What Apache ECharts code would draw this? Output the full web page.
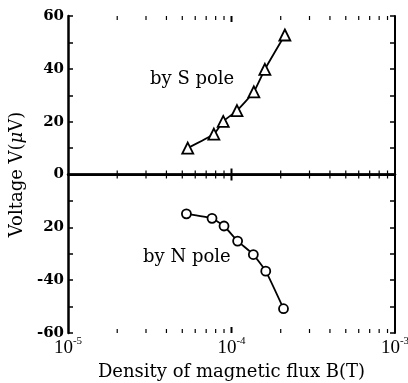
<!DOCTYPE html>
<html><head><meta charset="utf-8">
<script src="https://cdn.jsdelivr.net/npm/echarts@6/dist/echarts.min.js"></script>
<style>html,body{margin:0;padding:0;background:#fff}#c{width:408px;height:383px}</style>
</head><body><div id="c"></div>
<script>
const sPoleB = [5.4e-5, 7.8e-5, 8.9e-5, 1.08e-4, 1.37e-4, 1.6e-4, 2.12e-4];
const sPoleV = [10, 15.3, 20.1, 24.2, 31.3, 39.8, 52.8];
const nPoleB = [5.3e-5, 7.6e-5, 9.0e-5, 1.09e-4, 1.36e-4, 1.62e-4, 2.08e-4];
const nPoleV = [-14.9, -16.6, -19.5, -25.2, -30.3, -36.6, -50.8];
const yTickLabels = {"60":"60","40":"40","20":"20","0":"0","-20":"20","-40":"-40","-60":"-60"};
const xMinorTicks = [2e-5,3e-5,4e-5,5e-5,6e-5,7e-5,8e-5,9e-5,2e-4,3e-4,4e-4,5e-4,6e-4,7e-4,8e-4,9e-4];
const xMajorTicks = [1e-5,1e-4,1e-3];

const FONT = '"DejaVu Serif","Liberation Serif",serif';
const FONT2 = '"Liberation Serif","DejaVu Serif",serif';
const chart = echarts.init(document.getElementById('c'), null, {renderer:'canvas'});

function tickItem(params, api) {
  const x = api.value(0);
  const major = api.value(1) === 1;
  const zb = api.coord([x, 0]);
  const bot = api.coord([x, -60]);
  const top = api.coord([x, 60]);
  const L = major ? 6 : 4;
  const st = {stroke:'#000', lineWidth: major ? 2 : 1.2};
  const children = [
    {type:'line', shape:{x1:zb[0], y1:zb[1]-L, x2:zb[0], y2:zb[1]+L}, style:st},
    {type:'line', shape:{x1:bot[0], y1:bot[1], x2:bot[0], y2:bot[1]-L}, style:st},
    {type:'line', shape:{x1:top[0], y1:top[1], x2:top[0], y2:top[1]+L}, style:st}
  ];
  if (params.dataIndex === 0) {
    const a = api.coord([xMajorTicks[0], 0]);
    const b = api.coord([xMajorTicks[2], 0]);
    children.push({type:'line', shape:{x1:a[0], y1:a[1], x2:b[0], y2:b[1]}, style:{stroke:'#000', lineWidth:2}});
  }
  return {type:'group', children};
}

const tickData = xMinorTicks.map(v => [v, 0]).concat([[xMajorTicks[1], 1]]);

chart.setOption({
  animation:false,
  backgroundColor:'#fff',
  grid:{left:68, right:13, top:16, bottom:50, show:false, containLabel:false, outerBoundsMode:'none'},
  xAxis:[{
    type:'log', logBase:10, min:1e-5, max:1e-3, position:'bottom',
    name:'Density of magnetic flux B(T)', nameLocation:'middle', nameGap:30,
    nameTextStyle:{fontFamily:FONT, fontSize:18, color:'#000'},
    axisLine:{lineStyle:{color:'#000', width:2.5}},
    axisTick:{show:false},
    splitLine:{show:false},
    axisLabel:{
      margin:3, color:'#000',
      formatter: function(v){ const e = Math.round(Math.log10(v)); return '{b|10}{s|' + e + '}'; },
      rich:{
        b:{fontFamily:FONT2, fontSize:19, color:'#000', verticalAlign:'bottom'},
        s:{fontFamily:FONT2, fontSize:11, color:'#000', verticalAlign:'top', padding:[0,0,11,0]}
      }
    }
  },{
    type:'log', logBase:10, min:1e-5, max:1e-3, position:'top',
    axisLine:{lineStyle:{color:'#000', width:2}},
    axisTick:{show:false}, axisLabel:{show:false}, splitLine:{show:false}
  }],
  yAxis:[{
    type:'value', min:-60, max:60, interval:20, position:'left',
    name:'Voltage V({i|μ}V)', nameLocation:'middle', nameGap:41, nameRotate:90,
    nameTextStyle:{fontFamily:FONT, fontSize:18, color:'#000',
      rich:{i:{fontFamily:FONT, fontSize:18, fontStyle:'italic', color:'#000'}}},
    axisLine:{lineStyle:{color:'#000', width:2.5}},
    axisTick:{show:true, inside:true, length:5, lineStyle:{color:'#000', width:1.5}},
    minorTick:{show:true, splitNumber:2, length:5, lineStyle:{color:'#000', width:1.5}},
    splitLine:{show:false},
    axisLabel:{margin:4, color:'#000', fontFamily:FONT, fontSize:15, fontWeight:'bold',
      formatter: v => yTickLabels[String(v)]}
  },{
    type:'value', min:-60, max:60, interval:20, position:'right',
    axisLine:{show:true, lineStyle:{color:'#000', width:2}},
    axisTick:{show:true, inside:true, length:5, lineStyle:{color:'#000', width:1.5}},
    minorTick:{show:true, splitNumber:2, length:5, lineStyle:{color:'#000', width:1.5}},
    splitLine:{show:false}, axisLabel:{show:false}
  }],
  series:[{
    type:'custom', xAxisIndex:0, yAxisIndex:0, renderItem:tickItem, data:tickData, silent:true, z:1
  },{
    type:'line', xAxisIndex:0, yAxisIndex:0,
    data: sPoleB.map((b,i)=>[b, sPoleV[i]]),
    symbol:'triangle', symbolSize:11,
    itemStyle:{color:'#fff', borderColor:'#000', borderWidth:1.8},
    lineStyle:{color:'#000', width:1.8}, smooth:0.15, z:3
  },{
    type:'line', xAxisIndex:0, yAxisIndex:0,
    data: nPoleB.map((b,i)=>[b, nPoleV[i]]),
    symbol:'circle', symbolSize:9,
    itemStyle:{color:'#fff', borderColor:'#000', borderWidth:1.8},
    lineStyle:{color:'#000', width:1.8}, smooth:0.15, z:3
  }],
  graphic:[
    {type:'text', left:150, top:70, style:{text:'by S pole', font:'18px ' + FONT, fill:'#000'}},
    {type:'text', left:143, top:248, style:{text:'by N pole', font:'18px ' + FONT, fill:'#000'}}
  ]
});
</script></body></html>
